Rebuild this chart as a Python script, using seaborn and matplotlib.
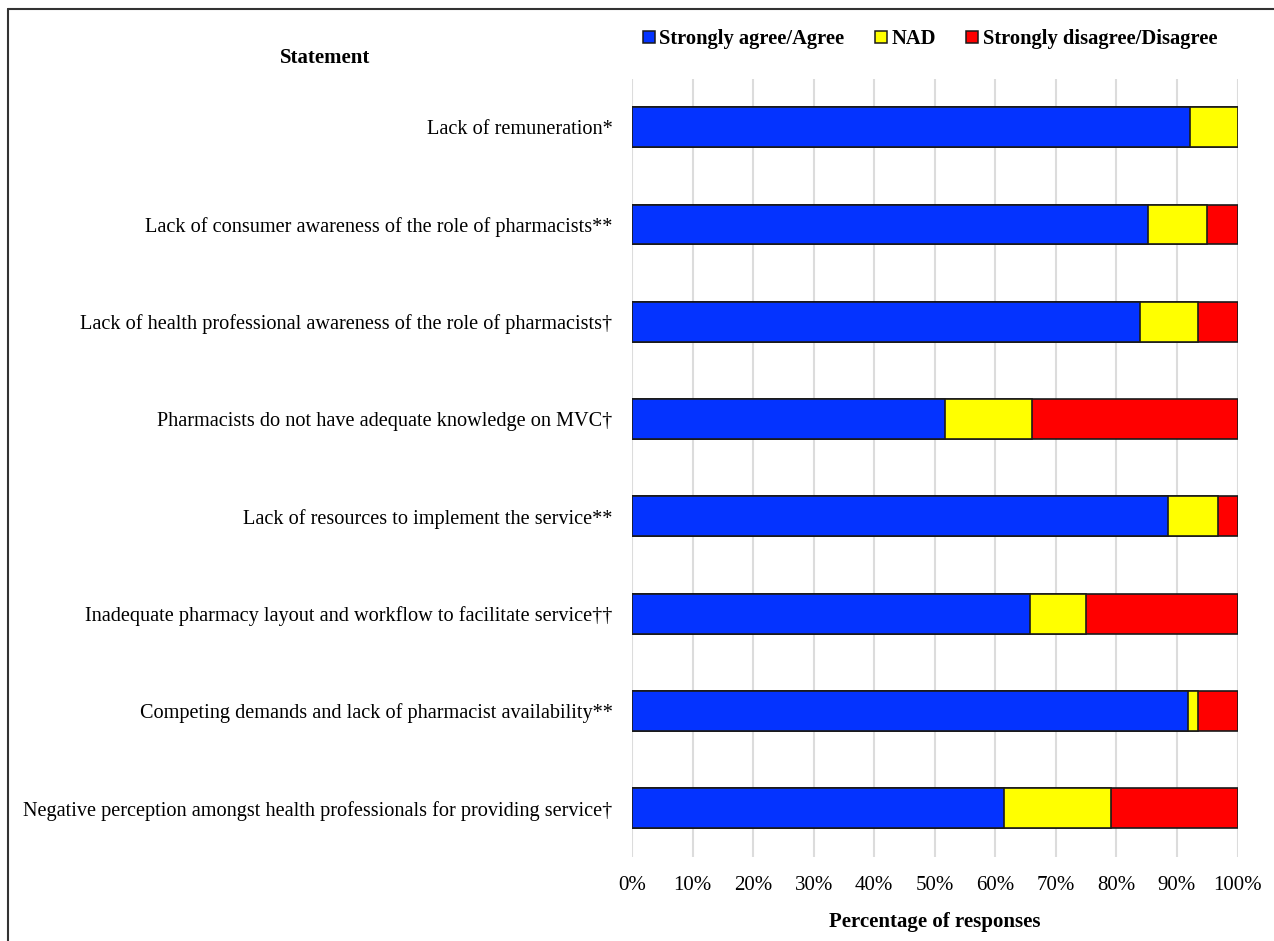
import matplotlib
matplotlib.use("Agg")
import matplotlib.pyplot as plt
from matplotlib.lines import Line2D
import seaborn as sns
import pandas as pd

statements = [
    "Lack of remuneration*",
    "Lack of consumer awareness of the role of pharmacists**",
    "Lack of health professional awareness of the role of pharmacists\u2020",
    "Pharmacists do not have adequate knowledge on MVC\u2020",
    "Lack of resources to implement the service**",
    "Inadequate pharmacy layout and workflow to facilitate service\u2020\u2020",
    "Competing demands and lack of pharmacist availability**",
    "Negative perception amongst health professionals for providing service\u2020",
]
agree = [92.1, 85.2, 83.9, 51.7, 88.6, 65.7, 91.9, 61.4]
nad = [7.9, 9.8, 9.6, 14.4, 8.1, 9.3, 1.6, 17.7]
disagree = [0.0, 5.0, 6.5, 33.9, 3.3, 25.0, 6.5, 20.9]

series_names = ["Strongly agree/Agree", "NAD", "Strongly disagree/Disagree"]
colors = ["#0433FF", "#FFFF00", "#FF0000"]
xticks = list(range(0, 101, 10))
xtick_labels = [f"{t}%" for t in xticks]

sns.set_theme(style="white")
plt.rcParams["font.family"] = ["Liberation Serif", "DejaVu Serif"]
plt.rcParams["text.color"] = "black"
plt.rcParams["axes.labelcolor"] = "black"

df = pd.DataFrame({
    "statement": statements,
    "agree": agree,
    "nad": nad,
    "disagree": disagree,
})
# cumulative right edges for each stacked segment
df["cum_agree"] = df["agree"]
df["cum_nad"] = df["agree"] + df["nad"]
df["cum_all"] = df["agree"] + df["nad"] + df["disagree"]

fig = plt.figure(figsize=(12.74, 9.41), dpi=100)
ax = fig.add_axes([632 / 1274, 1 - 857 / 941, 605.5 / 1274, 778.5 / 941])

# draw from the longest cumulative segment to the shortest so each layer sits on top
for col, color in zip(["cum_all", "cum_nad", "cum_agree"], colors[::-1]):
    sns.barplot(data=df, x=col, y="statement", orient="h", color=color,
                width=0.41, edgecolor="#1a1a1a", linewidth=1.2,
                saturation=1, ax=ax, zorder=3)

ax.set_xlim(0, 100)
ax.set_ylim(7.5, -0.5)
ax.set_xticks(xticks)
ax.set_xticklabels(xtick_labels)
ax.xaxis.grid(True, color="#dcdcdc", linewidth=1.5, zorder=0)
ax.yaxis.grid(False)
for s in ax.spines.values():
    s.set_visible(False)
ax.tick_params(axis="x", length=0, pad=14, labelsize=15, colors="black")
ax.tick_params(axis="y", length=0, pad=14, labelsize=14.6, colors="black")
ax.set_ylabel("")
ax.set_xlabel("Percentage of responses", fontsize=15, fontweight="bold",
              labelpad=12, color="black")

fig.text(325 / 1274, 1 - 58 / 941, "Statement", fontsize=15, fontweight="bold",
         ha="center", va="center", color="black")

handles = [Line2D([], [], linestyle="none", marker="s", markersize=8,
                  markerfacecolor=c, markeredgecolor="#1a1a1a", markeredgewidth=1.1)
           for c in colors]
leg = fig.legend(handles, series_names, loc="center", bbox_to_anchor=(929 / 1274, 1 - 39 / 941),
                 ncol=3, frameon=False, handletextpad=0.1, columnspacing=1.38,
                 handlelength=0.8, prop={"weight": "bold", "size": 14.8})
for t in leg.get_texts():
    t.set_color("black")

# frame lines along the top and left of the figure
fig.add_artist(Line2D([8 / 1274, 8 / 1274], [0, 1 - 9 / 941], color="#333333", linewidth=1.5))
fig.add_artist(Line2D([8 / 1274, 1], [1 - 9 / 941, 1 - 9 / 941], color="#333333", linewidth=1.5))

fig.savefig("out.png", dpi=100, facecolor="white")
